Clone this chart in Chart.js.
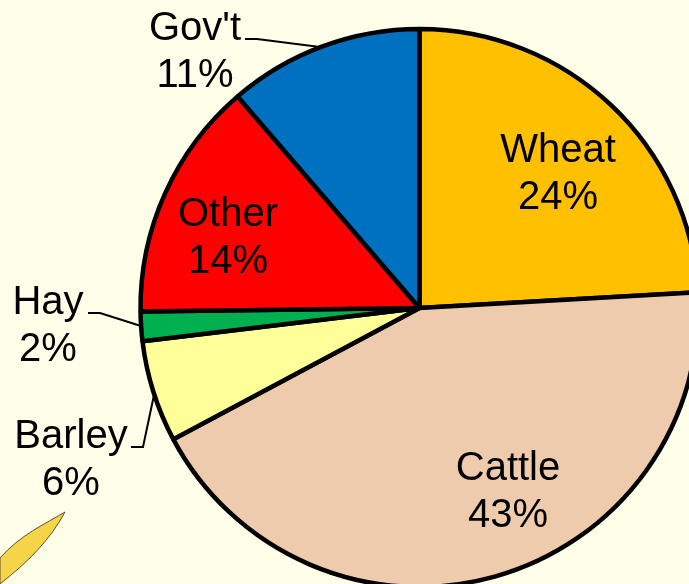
<!DOCTYPE html>
<html><head><meta charset="utf-8">
<style>
html,body{margin:0;padding:0;width:689px;height:584px;overflow:hidden;background:#FFFFE9}
#wrap{position:absolute;left:0;top:0;width:839px;height:616px}
</style>
<script src="https://cdn.jsdelivr.net/npm/chart.js@4"></script>
</head><body>
<div id="wrap"><canvas id="c" width="839" height="616"></canvas></div>
<script>
const categories = ["Wheat","Cattle","Barley","Hay","Other","Gov't"];
const sliceShares = [24.1,43.1,5.9,1.7,13.9,11.3];
const labelPercents = ["24%","43%","6%","2%","14%","11%"];
const sliceColors = ["#FFC000","#EECBAD","#FFFF99","#00B050","#FF0000","#0070C0"];

const labelLayout = [
  {x:558,y:151},{x:508,y:469},{x:71,y:437},{x:48,y:303},{x:228,y:215},{x:195,y:29}
];
const lineGap = 47;
const leaders = [
  [[245,39],[257,39],[320,47]],
  [[88,313],[100,313],[141,326]],
  [[131,447],[143,447],[154,395]]
];
const decor = {
  id:'decor',
  beforeDatasetsDraw(chart){
    const g=chart.ctx; g.save();
    g.beginPath();
    g.moveTo(65,512);
    g.bezierCurveTo(45,524,20,535,0,558);
    g.lineTo(0,584);
    g.bezierCurveTo(28,562,50,540,65,512);
    g.closePath();
    g.fillStyle='#F5D547';g.fill();
    g.strokeStyle='#5a5030';g.lineWidth=1;g.stroke();
    g.restore();
  },
  afterDatasetsDraw(chart){
    const g=chart.ctx; g.save();
    g.strokeStyle='#000';g.lineWidth=2;
    leaders.forEach(l=>{g.beginPath();l.forEach((p,i)=>i?g.lineTo(p[0],p[1]):g.moveTo(p[0],p[1]));g.stroke();});
    g.fillStyle='#000';g.font='40px "Liberation Sans"';g.textAlign='center';g.textBaseline='middle';
    categories.forEach((n,i)=>{
      const p=labelLayout[i];
      g.fillText(n,p.x,p.y);
      g.fillText(labelPercents[i],p.x,p.y+lineGap);
    });
    g.restore();
  }
};
new Chart(document.getElementById('c'),{
  type:'pie',
  data:{labels:categories,datasets:[{data:sliceShares,backgroundColor:sliceColors,borderColor:'#000',borderWidth:4.5,borderAlign:'center',radius:279}]},
  options:{responsive:false,animation:false,layout:{padding:0},
    plugins:{legend:{display:false},tooltip:{enabled:false}}},
  plugins:[decor]
});
</script>
</body></html>
